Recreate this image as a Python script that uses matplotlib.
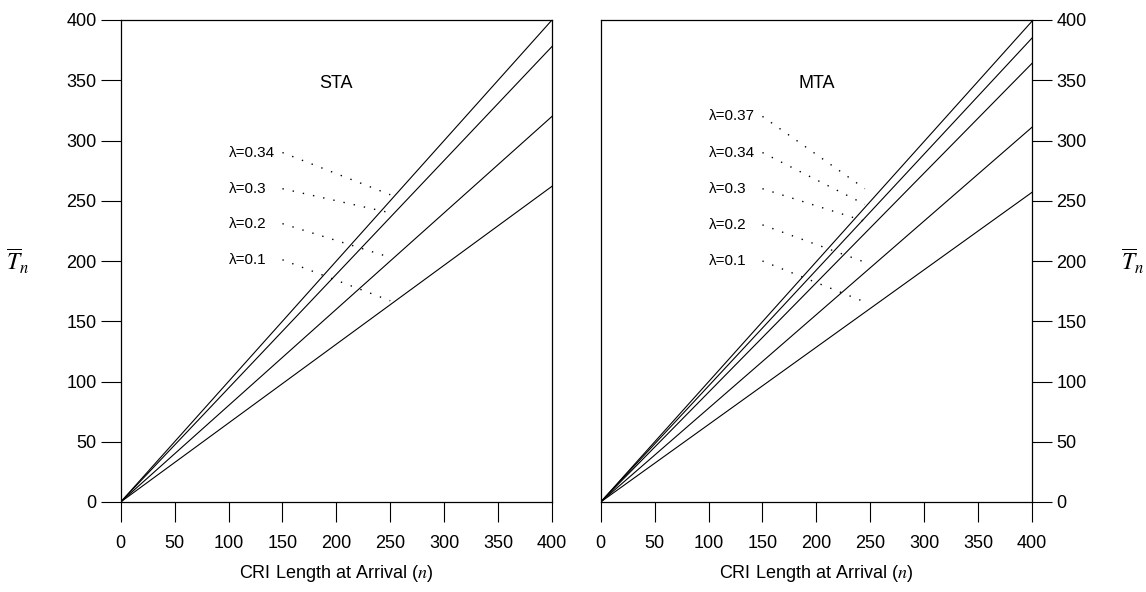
import matplotlib
matplotlib.use("Agg")
import matplotlib.pyplot as plt

plt.rcParams['font.family'] = ['Liberation Sans', 'DejaVu Sans']
plt.rcParams['mathtext.fontset'] = 'stix'

# Data
n_range = [0, 400]
sta_lambdas = [0.1, 0.2, 0.3, 0.34]
sta_T_at_400 = [262, 320, 378, 400]
sta_label_y = [201, 231, 260, 290]
sta_leader_end_y = [167, 203, 240, 255]

mta_lambdas = [0.1, 0.2, 0.3, 0.34, 0.37]
mta_T_at_400 = [257, 311, 364, 385, 399]
mta_label_y = [200, 230, 260, 290, 320]
mta_leader_end_y = [166, 199, 233, 247, 260]

ticks = [0, 50, 100, 150, 200, 250, 300, 350, 400]

fig = plt.figure(figsize=(11.46, 5.92), dpi=100)
W, H = 1146, 592
axL = fig.add_axes([120.7 / W, 90 / H, 431.3 / W, 482 / H])
axR = fig.add_axes([600.7 / W, 90 / H, 431.3 / W, 482 / H])


def draw(ax, title, lams, ends, label_y, leader_end_y, leader_end_x, side):
    for lam, v in zip(lams, ends):
        ax.plot(n_range, [0, v], color='black', lw=0.8)
    for lam, ly, ey in zip(lams, label_y, leader_end_y):
        ax.text(100, ly, f"λ={lam:g}", fontsize=11, ha='left', va='center')
        ax.plot([150, leader_end_x], [ly, ey], color='black', lw=1.0,
                linestyle=(0, (1, 6.5)))
    ax.text(200, 347, title, fontsize=13, ha='center', va='center')
    ax.set_xlim(0, 400)
    ax.set_ylim(0, 400)
    ax.set_xticks(ticks)
    ax.set_yticks(ticks)
    ax.tick_params(direction='out', length=14.4, width=0.8, labelsize=13,
                   color='black')
    ax.tick_params(axis='x', pad=9)
    ax.tick_params(axis='y', pad=3)
    for sp in ax.spines.values():
        sp.set_linewidth(0.9)
    if side == 'right':
        ax.yaxis.tick_right()
        ax.text(1.234, 0.5, r'$\overline{T}_n$', transform=ax.transAxes,
                fontsize=17, ha='center', va='center')
    else:
        ax.text(-0.238, 0.5, r'$\overline{T}_n$', transform=ax.transAxes,
                fontsize=17, ha='center', va='center')
    ax.set_xlabel(r'CRI Length at Arrival ($n$)', fontsize=13, labelpad=8)


draw(axL, 'STA', sta_lambdas, sta_T_at_400, sta_label_y, sta_leader_end_y, 250, 'left')
draw(axR, 'MTA', mta_lambdas, mta_T_at_400, mta_label_y, mta_leader_end_y, 245, 'right')

fig.savefig('out.png', dpi=100)
